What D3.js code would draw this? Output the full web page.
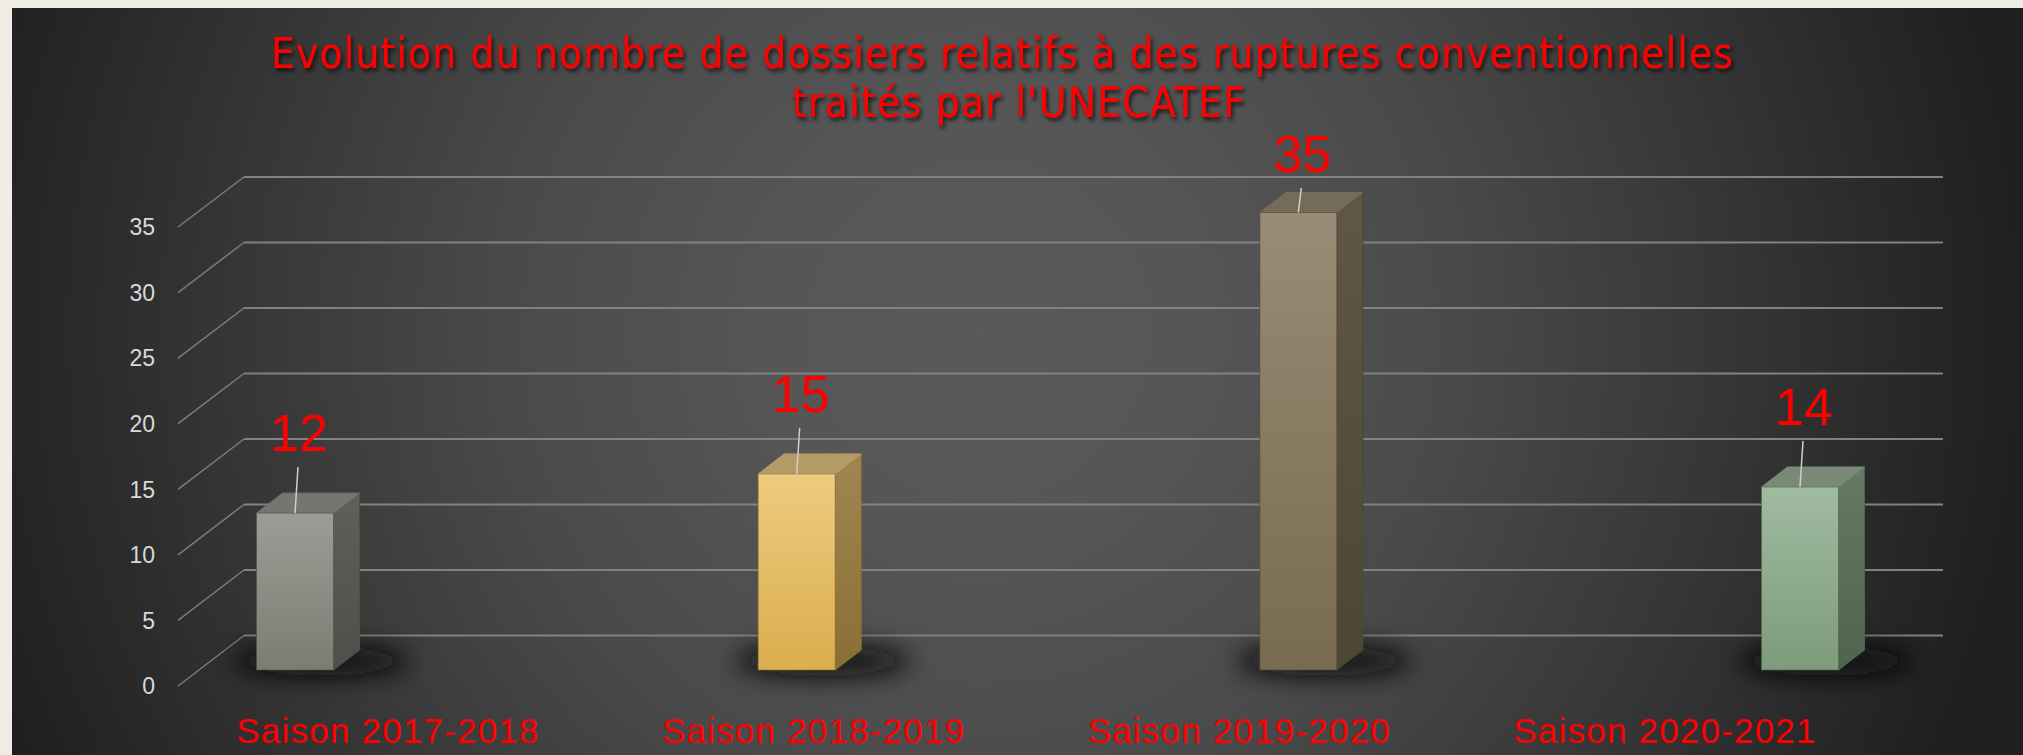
<!DOCTYPE html>
<html>
<head>
<meta charset="utf-8">
<script src="https://cdn.jsdelivr.net/npm/d3@7"></script>
<style>
	body { margin: 0; background: #efece4; }
	svg { display: block; }
</style>
</head>
<body>
<script>
const categories = ["Saison 2017-2018", "Saison 2018-2019", "Saison 2019-2020", "Saison 2020-2021"];
const values = [12, 15, 35, 14];
const yTicks = [0, 5, 10, 15, 20, 25, 30, 35];
const titleLines = ["Evolution du nombre de dossiers relatifs à des ruptures conventionnelles", "traités par l'UNECATEF"];

// front face, side face, top face colours for each bar
const frontTop = ["#9c9d96", "#eecb80", "#998b75", "#a0bba0"];
const frontBottom = ["#7b7c72", "#dbae4e", "#796b4f", "#7d9b7b"];
const sideTop = ["#5f605a", "#a08752", "#605747", "#647a63"];
const sideBottom = ["#4e4f49", "#8a6f33", "#4e4634", "#4e644d"];
const topColor = ["#75766f", "#b59b66", "#756b59", "#798b77"];

const W = 2023, H = 755;

const svg = d3.select("body").append("svg")
	.attr("width", W)
	.attr("height", H);

const defs = svg.append("defs");

const bg = defs.append("radialGradient")
	.attr("id", "bg")
	.attr("gradientUnits", "userSpaceOnUse")
	.attr("cx", 980).attr("cy", 330).attr("r", 1050);
[[0, "#595959"], [0.2, "#565656"], [0.45, "#4a4a4a"], [0.7, "#373737"], [0.9, "#272727"], [1, "#1f1f1f"]]
	.forEach(s => bg.append("stop").attr("offset", s[0]).attr("stop-color", s[1]));

defs.append("filter").attr("id", "blur")
	.attr("x", "-100%").attr("y", "-200%").attr("width", "300%").attr("height", "500%")
	.append("feGaussianBlur").attr("stdDeviation", 13);

const ts = defs.append("filter").attr("id", "tshadow")
	.attr("x", "-5%").attr("y", "-30%").attr("width", "110%").attr("height", "160%");
ts.append("feDropShadow")
	.attr("dx", 2).attr("dy", 3).attr("stdDeviation", 2)
	.attr("flood-color", "#000").attr("flood-opacity", 0.75);

values.forEach((v, i) => {
	const f = defs.append("linearGradient").attr("id", "front" + i)
		.attr("x1", 0).attr("y1", 0).attr("x2", 0).attr("y2", 1);
	f.append("stop").attr("offset", 0).attr("stop-color", frontTop[i]);
	f.append("stop").attr("offset", 1).attr("stop-color", frontBottom[i]);
	const s = defs.append("linearGradient").attr("id", "side" + i)
		.attr("x1", 0).attr("y1", 0).attr("x2", 0).attr("y2", 1);
	s.append("stop").attr("offset", 0).attr("stop-color", sideTop[i]);
	s.append("stop").attr("offset", 1).attr("stop-color", sideBottom[i]);
});

// frame
svg.append("rect")
	.attr("x", 12).attr("y", 8)
	.attr("width", W - 12).attr("height", H - 8)
	.attr("fill", "url(#bg)");

// scales
const yWall = d3.scaleLinear().domain([0, 35]).range([635.5, 177]);
const yAxisFront = d3.scaleLinear().domain([0, 35]).range([686, 227]);
const yBar = d3.scaleLinear().domain([0, 35]).range([670, 212.5]);
const xBar = d3.scalePoint().domain(categories).range([295, 1800]);
const xLabel = d3.scalePoint().domain(categories).range([388, 1665]);
const wallLeft = 244, wallRight = 1943, axisX = 178;
const barW = 77, depthX = 26, depthY = -20;

// gridlines on back wall
svg.append("g").selectAll("line")
	.data(yTicks)
	.join("line")
	.attr("x1", wallLeft).attr("x2", wallRight)
	.attr("y1", d => yWall(d)).attr("y2", d => yWall(d))
	.attr("stroke", "#828282")
	.attr("stroke-width", 2);

// floor diagonals on the side wall
svg.append("g").selectAll("line")
	.data(yTicks)
	.join("line")
	.attr("x1", axisX).attr("y1", d => yAxisFront(d))
	.attr("x2", wallLeft).attr("y2", d => yWall(d))
	.attr("stroke", "#7c7c7c")
	.attr("stroke-width", 1.5);

// y tick labels
svg.append("g").selectAll("text")
	.data(yTicks)
	.join("text")
	.attr("x", 155)
	.attr("y", d => yAxisFront(d))
	.attr("dy", "0.36em")
	.attr("text-anchor", "end")
	.attr("font-family", "'Liberation Sans', Arial, sans-serif")
	.attr("font-size", "23px")
	.attr("fill", "#d9d9d9")
	.text(d => d);

// shadows
svg.append("g").selectAll("ellipse")
	.data(categories)
	.join("ellipse")
	.attr("cx", d => xBar(d) + 26)
	.attr("cy", yBar(0) - 9)
	.attr("rx", 88)
	.attr("ry", 15)
	.attr("fill", "#080808")
	.attr("filter", "url(#blur)");

// bars
const bars = svg.append("g").selectAll("g")
	.data(values)
	.join("g");

bars.append("path")
	.attr("d", (v, i) => {
		const x0 = xBar(categories[i]) - barW / 2, x1 = x0 + barW;
		const yt = yBar(v), yb = yBar(0);
		return `M${x1},${yt}L${x1 + depthX},${yt + depthY}L${x1 + depthX},${yb + depthY}L${x1},${yb}Z`;
	})
	.attr("fill", (v, i) => `url(#side${i})`)
	.attr("stroke", (v, i) => sideBottom[i])
	.attr("stroke-width", 1);

bars.append("path")
	.attr("d", (v, i) => {
		const x0 = xBar(categories[i]) - barW / 2, x1 = x0 + barW;
		const yt = yBar(v);
		return `M${x0},${yt}L${x0 + depthX},${yt + depthY}L${x1 + depthX},${yt + depthY}L${x1},${yt}Z`;
	})
	.attr("fill", (v, i) => topColor[i])
	.attr("stroke", (v, i) => topColor[i])
	.attr("stroke-width", 1);

bars.append("rect")
	.attr("x", (v, i) => xBar(categories[i]) - barW / 2)
	.attr("y", v => yBar(v))
	.attr("width", barW)
	.attr("height", v => yBar(0) - yBar(v))
	.attr("fill", (v, i) => `url(#front${i})`)
	.attr("stroke", (v, i) => sideBottom[i])
	.attr("stroke-opacity", 0.6)
	.attr("stroke-width", 1);

// value labels with leader lines
const labelY = v => Math.max(yBar(v) - 62, yWall(35) - 5);

bars.append("line")
	.attr("x1", (v, i) => xBar(categories[i]))
	.attr("x2", (v, i) => xBar(categories[i]) + 3)
	.attr("y1", v => yBar(v))
	.attr("y2", v => labelY(v) + 16)
	.attr("stroke", "#cfcfcf")
	.attr("stroke-width", 1.5);

bars.append("text")
	.attr("x", (v, i) => xBar(categories[i]) + 4)
	.attr("y", v => labelY(v))
	.attr("text-anchor", "middle")
	.attr("font-family", "'Liberation Sans', Arial, sans-serif")
	.attr("font-size", "52px")
	.attr("fill", "#ff0000")
	.text(v => v);

// category labels
svg.append("g").selectAll("text")
	.data(categories)
	.join("text")
	.attr("x", d => xLabel(d))
	.attr("y", 743)
	.attr("text-anchor", "middle")
	.attr("font-family", "'Liberation Sans', Arial, sans-serif")
	.attr("font-size", "35px")
	.attr("letter-spacing", "1.2px")
	.attr("fill", "#ff0000")
	.text(d => d);

// title
const titleX = [[271, 1733], [792, 1245]];
const titleY = [68, 117];
svg.append("g")
	.attr("filter", "url(#tshadow)")
	.selectAll("text")
	.data(titleLines)
	.join("text")
	.attr("x", (d, i) => titleX[i][0])
	.attr("y", (d, i) => titleY[i])
	.attr("textLength", (d, i) => titleX[i][1] - titleX[i][0])
	.attr("lengthAdjust", "spacing")
	.attr("font-family", "'Liberation Sans Narrow', 'DejaVu Sans Condensed', 'Arial Narrow', sans-serif")
	.attr("font-size", "42px")
	.attr("fill", "#ff0000")
	.text(d => d);
</script>
</body>
</html>
